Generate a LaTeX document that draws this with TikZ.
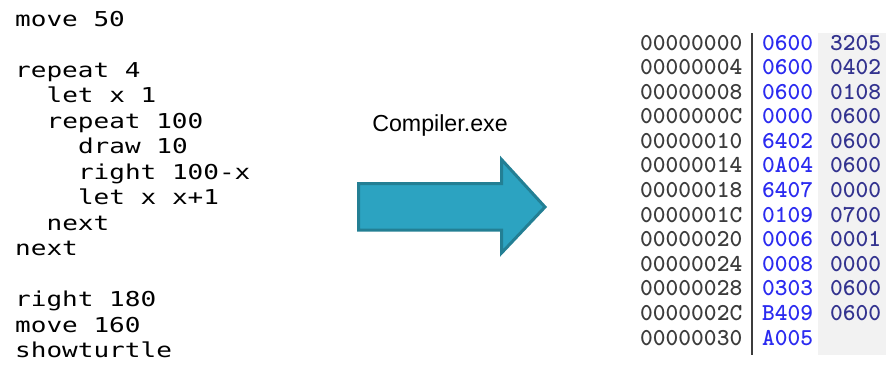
\documentclass[tikz,border=0pt]{standalone}
\usepackage{fontspec}
\usepackage{tikz}
\newfontfamily\codefont[FakeStretch=1.27]{DejaVu Sans Mono}
\newfontfamily\labelfont{Liberation Sans}
\definecolor{addrgray}{HTML}{3C3C3C}
\definecolor{wordblue}{HTML}{2B2BF0}
\definecolor{worddark}{HTML}{33338F}
\definecolor{panelgray}{HTML}{F2F2F2}
\definecolor{arrowfill}{HTML}{2CA3C1}
\definecolor{arrowedge}{HTML}{237F94}

\begin{document}
\begin{tikzpicture}[x=1pt, y=-1pt, inner sep=0pt,
			code line/.style={anchor=base west, font=\codefont\fontsize{20.5}{24}\selectfont},
			hex/.style={anchor=base west, font=\ttfamily\bfseries\fontsize{24.3}{28}\selectfont},
			addr/.style={hex, text=addrgray},
			word/.style={hex, text=wordblue},
			word2/.style={hex, text=worddark}]
			
			\useasboundingbox (0,0) rectangle (886,365);
			
			\node[code line] (c1) at (15,26) {move 50};
			\node[code line] (c2) at (15,77) {repeat 4};
			\node[code line] (c3) at (46.4,102.5) {let x 1};
			\node[code line] (c4) at (46.4,128) {repeat 100};
			\node[code line] (c5) at (77.8,153.5) {draw 10};
			\node[code line] (c6) at (77.8,179) {right 100-x};
			\node[code line] (c7) at (77.8,204.5) {let x x+1};
			\node[code line] (c8) at (46.4,230) {next};
			\node[code line] (c9) at (15,255.5) {next};
			\node[code line] (c10) at (15,306.5) {right 180};
			\node[code line] (c11) at (15,332) {move 160};
			\node[code line] (c12) at (15,357.5) {showturtle};
			
			\draw[arrowedge, fill=arrowfill, line width=3pt, line join=miter]
			(358.5,183.5) -- (501.5,183.5) -- (501.5,159.5) -- (545,207)
			-- (501.5,253) -- (501.5,230) -- (358.5,230) -- cycle;
			\node[anchor=base, font=\labelfont\fontsize{23.2}{28}\selectfont] (compiler) at (440,131.5) {Compiler.exe};
			
			\fill[panelgray] (818,33) rectangle (886,355);
			\draw[addrgray, line width=1.6pt] (752,33) -- (752,355);
			
			\node[addr] (a1) at (640,50) {00000000}; \node[word] (w1) at (762,50) {0600}; \node[word2] (v1) at (830,50) {3205};
			\node[addr] (a2) at (640,74.6) {00000004}; \node[word] (w2) at (762,74.6) {0600}; \node[word2] (v2) at (830,74.6) {0402};
			\node[addr] (a3) at (640,99.2) {00000008}; \node[word] (w3) at (762,99.2) {0600}; \node[word2] (v3) at (830,99.2) {0108};
			\node[addr] (a4) at (640,123.8) {0000000C}; \node[word] (w4) at (762,123.8) {0000}; \node[word2] (v4) at (830,123.8) {0600};
			\node[addr] (a5) at (640,148.3) {00000010}; \node[word] (w5) at (762,148.3) {6402}; \node[word2] (v5) at (830,148.3) {0600};
			\node[addr] (a6) at (640,172.9) {00000014}; \node[word] (w6) at (762,172.9) {0A04}; \node[word2] (v6) at (830,172.9) {0600};
			\node[addr] (a7) at (640,197.5) {00000018}; \node[word] (w7) at (762,197.5) {6407}; \node[word2] (v7) at (830,197.5) {0000};
			\node[addr] (a8) at (640,222.1) {0000001C}; \node[word] (w8) at (762,222.1) {0109}; \node[word2] (v8) at (830,222.1) {0700};
			\node[addr] (a9) at (640,246.7) {00000020}; \node[word] (w9) at (762,246.7) {0006}; \node[word2] (v9) at (830,246.7) {0001};
			\node[addr] (a10) at (640,271.3) {00000024}; \node[word] (w10) at (762,271.3) {0008}; \node[word2] (v10) at (830,271.3) {0000};
			\node[addr] (a11) at (640,295.8) {00000028}; \node[word] (w11) at (762,295.8) {0303}; \node[word2] (v11) at (830,295.8) {0600};
			\node[addr] (a12) at (640,320.4) {0000002C}; \node[word] (w12) at (762,320.4) {B409}; \node[word2] (v12) at (830,320.4) {0600};
			\node[addr] (a13) at (640,345) {00000030}; \node[word] (w13) at (762,345) {A005};
			\end{tikzpicture}
\end{document}
